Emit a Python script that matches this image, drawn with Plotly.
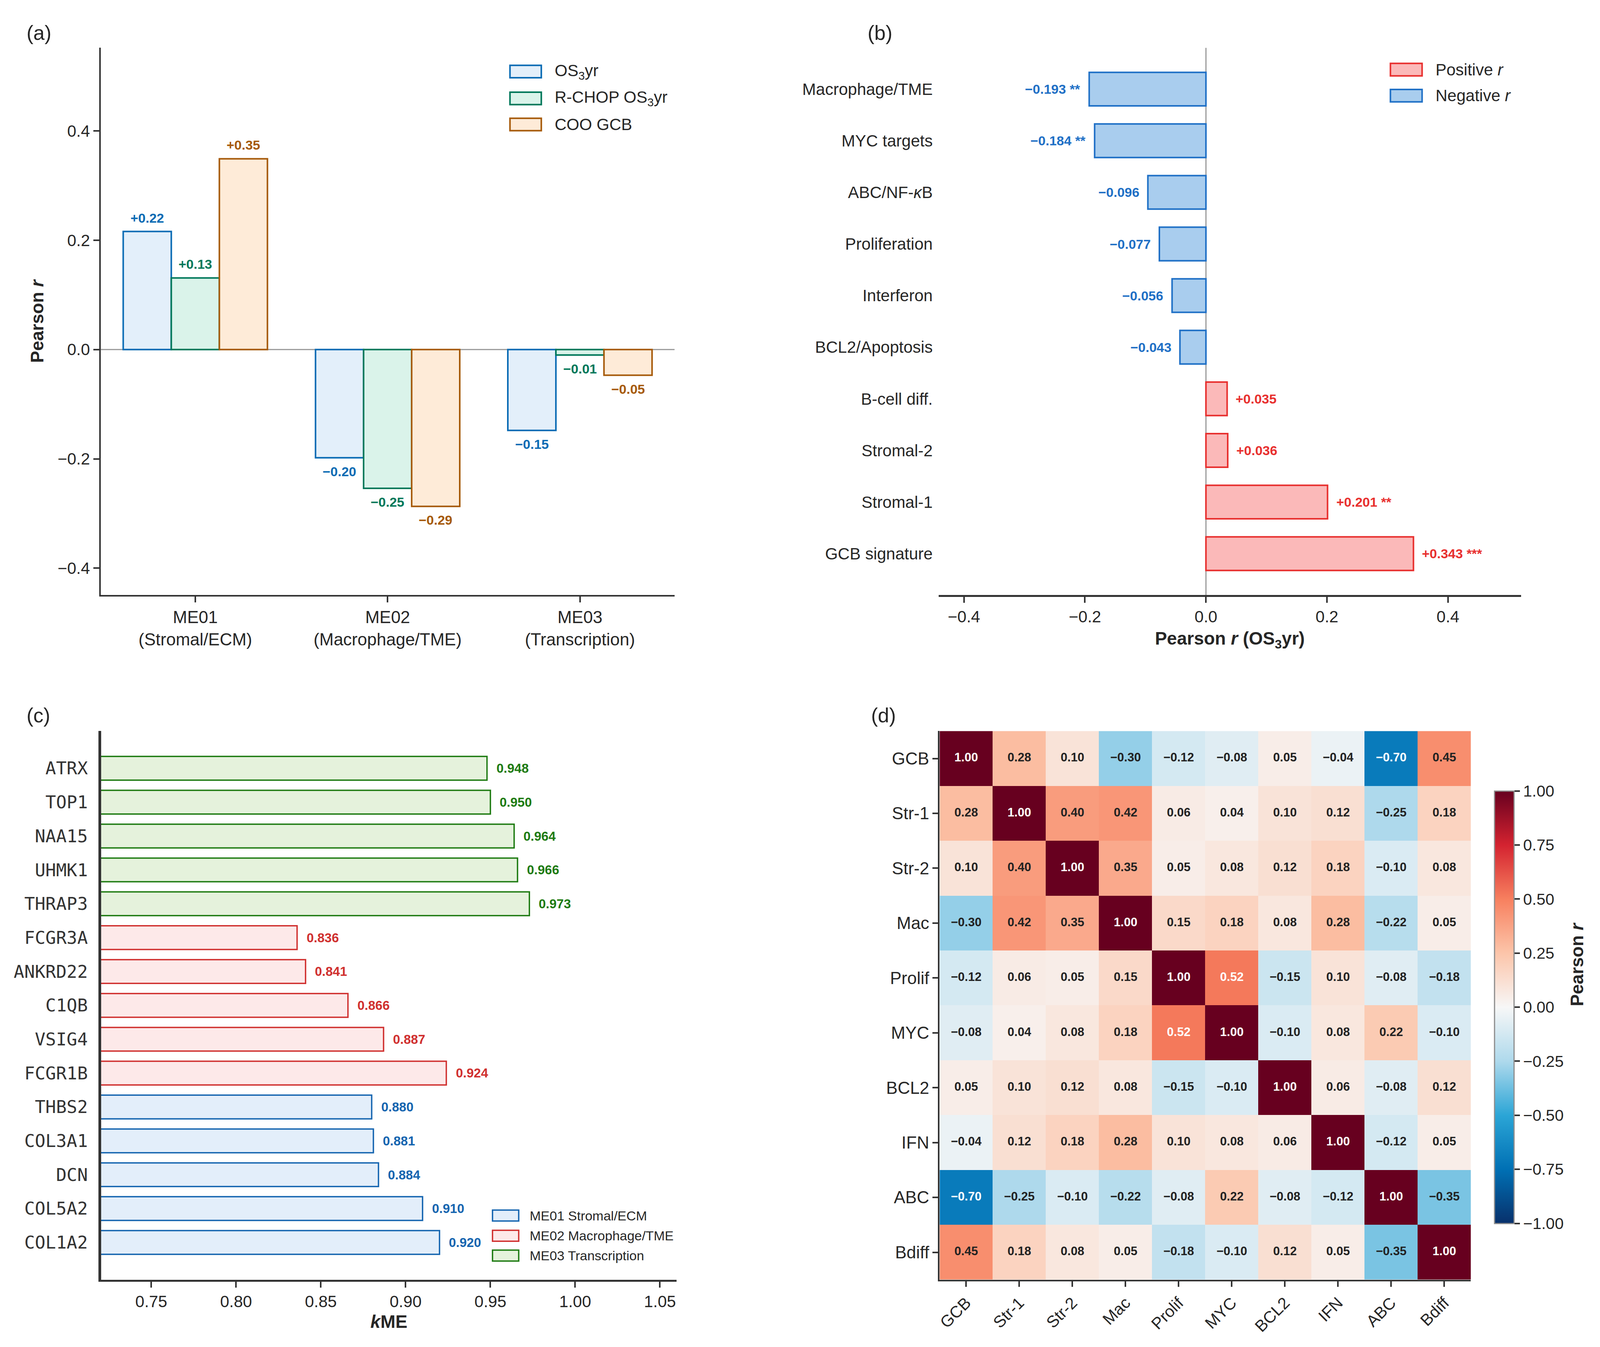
import plotly.graph_objects as go
from plotly.subplots import make_subplots

W, H = 4377, 3448   # reference size, used only to turn pixel positions into fractions
SANS = "Liberation Sans, Arial, sans-serif"
MONO = "DejaVu Sans Mono, monospace"
INK = "#262626"
AXIS = "#333333"
MINUS = "\u2212"

# (a) module eigengenes vs outcome
modules = ["ME01<br>(Stromal/ECM)", "ME02<br>(Macrophage/TME)", "ME03<br>(Transcription)"]
module_pos = [0, 1, 2]
r_os3yr = [0.216, -0.198, -0.148]
r_rchop = [0.131, -0.254, -0.010]
r_coo = [0.349, -0.287, -0.047]

# (b) signature scores vs OS3yr
signatures = ["Macrophage/TME", "MYC targets", "ABC/NF-kB", "Proliferation", "Interferon",
              "BCL2/Apoptosis", "B-cell diff.", "Stromal-2", "Stromal-1", "GCB signature"]
signature_text = ["Macrophage/TME", "MYC targets", "ABC/NF-<i>κ</i>B", "Proliferation", "Interferon",
                  "BCL2/Apoptosis", "B-cell diff.", "Stromal-2", "Stromal-1", "GCB signature"]
sig_r = [-0.193, -0.184, -0.096, -0.077, -0.056, -0.043, 0.035, 0.036, 0.201, 0.343]
sig_stars = ["**", "**", "", "", "", "", "", "", "**", "***"]

# (c) hub genes
hub_genes = ["ATRX", "TOP1", "NAA15", "UHMK1", "THRAP3", "FCGR3A", "ANKRD22", "C1QB",
             "VSIG4", "FCGR1B", "THBS2", "COL3A1", "DCN", "COL5A2", "COL1A2"]
hub_kme = [0.948, 0.950, 0.964, 0.966, 0.973, 0.836, 0.841, 0.866,
           0.887, 0.924, 0.880, 0.881, 0.884, 0.910, 0.920]
hub_module = ["ME03", "ME03", "ME03", "ME03", "ME03", "ME02", "ME02", "ME02",
              "ME02", "ME02", "ME01", "ME01", "ME01", "ME01", "ME01"]

# (d) signature correlation matrix
corr_labels = ["GCB", "Str-1", "Str-2", "Mac", "Prolif", "MYC", "BCL2", "IFN", "ABC", "Bdiff"]
corr = [
    [1.00, 0.28, 0.10, -0.30, -0.12, -0.08, 0.05, -0.04, -0.70, 0.45],
    [0.28, 1.00, 0.40, 0.42, 0.06, 0.04, 0.10, 0.12, -0.25, 0.18],
    [0.10, 0.40, 1.00, 0.35, 0.05, 0.08, 0.12, 0.18, -0.10, 0.08],
    [-0.30, 0.42, 0.35, 1.00, 0.15, 0.18, 0.08, 0.28, -0.22, 0.05],
    [-0.12, 0.06, 0.05, 0.15, 1.00, 0.52, -0.15, 0.10, -0.08, -0.18],
    [-0.08, 0.04, 0.08, 0.18, 0.52, 1.00, -0.10, 0.08, 0.22, -0.10],
    [0.05, 0.10, 0.12, 0.08, -0.15, -0.10, 1.00, 0.06, -0.08, 0.12],
    [-0.04, 0.12, 0.18, 0.28, 0.10, 0.08, 0.06, 1.00, -0.12, 0.05],
    [-0.70, -0.25, -0.10, -0.22, -0.08, 0.22, -0.08, -0.12, 1.00, -0.35],
    [0.45, 0.18, 0.08, 0.05, -0.18, -0.10, 0.12, 0.05, -0.35, 1.00],
]
cbar_ticks = [1.0, 0.75, 0.5, 0.25, 0.0, -0.25, -0.5, -0.75, -1.0]


def fmt(v, spec):
    return format(v, spec).replace("-", MINUS)


def px_x(p):
    return p / W


def px_y(p):
    return 1 - p / H


fig = make_subplots(rows=2, cols=2)

# ---------- (a)
series_a = [
    ("OS<sub>3</sub>yr", r_os3yr, "#0a6bb4", "#e3effa", -0.25),
    ("R-CHOP OS<sub>3</sub>yr", r_rchop, "#00785a", "#daf3ea", 0.0),
    ("COO GCB", r_coo, "#a65a0a", "#feebd8", 0.25),
]
for name, vals, edge, fill, off in series_a:
    xs = [p + off for p in module_pos]
    fig.add_trace(go.Bar(x=xs, y=vals, width=0.25, name=name, showlegend=False,
                         marker=dict(color=fill, line=dict(color=edge, width=4))),
                  row=1, col=1)
    for x, v in zip(xs, vals):
        fig.add_annotation(x=x, y=v, xref="x", yref="y", text="<b>%s</b>" % fmt(v, "+.2f"),
                           showarrow=False, yanchor="bottom" if v >= 0 else "top",
                           yshift=14 if v >= 0 else -14,
                           font=dict(size=34, color=edge, family=SANS))

fig.add_shape(type="line", xref="x domain", yref="y", x0=0, x1=1, y0=0, y1=0,
              line=dict(color="#999999", width=3), layer="below")

# ---------- (b)
for sign, fill, edge in [(1, "#fbb9b9", "#e8302f"), (-1, "#a9cdee", "#1f70c6")]:
    idx = [i for i, v in enumerate(sig_r) if (v > 0) == (sign > 0)]
    fig.add_trace(go.Bar(y=[signatures[i] for i in idx], x=[sig_r[i] for i in idx],
                         orientation="h", width=0.65, showlegend=False,
                         marker=dict(color=fill, line=dict(color=edge, width=4))),
                  row=1, col=2)
    for i in idx:
        v = sig_r[i]
        label = fmt(v, "+.3f") + (" " + sig_stars[i] if sig_stars[i] else "")
        fig.add_annotation(x=v, y=signatures[i], xref="x2", yref="y2", text="<b>%s</b>" % label,
                           showarrow=False, xanchor="left" if v > 0 else "right",
                           xshift=20 if v > 0 else -20,
                           font=dict(size=34, color=edge, family=SANS))

fig.add_shape(type="line", xref="x2", yref="y2 domain", x0=0, x1=0, y0=0, y1=1,
              line=dict(color="#999999", width=3), layer="below")

# ---------- (c)
module_style = {
    "ME01": ("ME01 Stromal/ECM", "#1565b0", "#e3eefa"),
    "ME02": ("ME02 Macrophage/TME", "#d0302f", "#fde9e9"),
    "ME03": ("ME03 Transcription", "#1e7b12", "#e5f2dc"),
}
for mod in ["ME01", "ME02", "ME03"]:
    label, edge, fill = module_style[mod]
    genes = [g for g, m in zip(hub_genes, hub_module) if m == mod]
    vals = [k for k, m in zip(hub_kme, hub_module) if m == mod]
    fig.add_trace(go.Bar(y=genes, x=vals, orientation="h", width=0.7, showlegend=False,
                         marker=dict(color=fill, line=dict(color=edge, width=3.5))),
                  row=2, col=1)
    for g, v in zip(genes, vals):
        fig.add_annotation(x=v, y=g, xref="x3", yref="y3", text="<b>%s</b>" % fmt(v, ".3f"),
                           showarrow=False, xanchor="left", xshift=22,
                           font=dict(size=33, color=edge, family=SANS))

# ---------- (d)
colorscale = [
    [0.0, "#08306b"], [0.125, "#0070b4"], [0.25, "#2ba5d6"], [0.375, "#aed9ec"],
    [0.5, "#f7f7f7"], [0.625, "#fcc5aa"], [0.75, "#f7805f"], [0.875, "#d42330"],
    [1.0, "#67001f"],
]
fig.add_trace(go.Heatmap(
    z=corr, x=corr_labels, y=corr_labels, zmin=-1, zmax=1, colorscale=colorscale,
    showscale=True, hoverinfo="skip",
    colorbar=dict(x=4096 / W, xanchor="left", xpad=0, ypad=0, y=px_y(2582), yanchor="middle",
                  len=1112 / H, lenmode="fraction", thickness=50,
                  outlinecolor="#8c8c8c", outlinewidth=3,
                  tickvals=cbar_ticks, ticktext=[fmt(t, ".2f") for t in cbar_ticks],
                  ticks="outside", ticklen=14, tickwidth=4, tickcolor=AXIS,
                  tickfont=dict(size=41, color=INK, family=SANS)),
), row=2, col=2)

cell_x, cell_y, cell_t, cell_c = [], [], [], []
for r, row_name in enumerate(corr_labels):
    for c, col_name in enumerate(corr_labels):
        v = corr[r][c]
        cell_x.append(col_name)
        cell_y.append(row_name)
        cell_t.append("<b>%s</b>" % fmt(v, ".2f"))
        cell_c.append("white" if abs(v) >= 0.5 else "#222222")
fig.add_trace(go.Scatter(x=cell_x, y=cell_y, mode="text", text=cell_t, showlegend=False,
                         textfont=dict(size=31, color=cell_c, family=SANS), hoverinfo="skip"),
              row=2, col=2)

# ---------- axes
tickfont = dict(size=42, color=INK, family=SANS)
common = dict(showgrid=False, zeroline=False, linecolor=AXIS, tickcolor=AXIS, tickfont=tickfont)
title_font = dict(size=46, color=INK, family=SANS)

fig.update_layout(
    autosize=True, margin=dict(l=0, r=0, t=0, b=0, autoexpand=False),
    template="plotly_white", paper_bgcolor="white", plot_bgcolor="white",
    font=dict(family=SANS, color=INK), barmode="overlay", showlegend=False,
    xaxis=dict(common, domain=[px_x(268), px_x(1844)], range=[-0.492, 2.492],
               tickvals=module_pos, ticktext=modules, showline=True, linewidth=4,
               ticks="outside", ticklen=15, tickwidth=4, tickfont=dict(size=44, color=INK, family=SANS)),
    yaxis=dict(common, domain=[px_y(1522), px_y(115)], range=[-0.449, 0.552],
               tickvals=[0.4, 0.2, 0.0, -0.2, -0.4],
               ticktext=["0.4", "0.2", "0.0", MINUS + "0.2", MINUS + "0.4"],
               showline=True, linewidth=4, ticks="outside", ticklen=15, tickwidth=4,
               title=dict(text="<b>Pearson <i>r</i></b>", font=title_font, standoff=22)),
    xaxis2=dict(common, domain=[px_x(2569), px_x(4169)], range=[-0.442, 0.521],
                tickvals=[-0.4, -0.2, 0.0, 0.2, 0.4],
                ticktext=[MINUS + "0.4", MINUS + "0.2", "0.0", "0.2", "0.4"],
                showline=True, linewidth=5, ticks="outside", ticklen=15, tickwidth=4,
                title=dict(text="<b>Pearson <i>r</i> (OS<sub>3</sub>yr)</b>", font=title_font, standoff=18)),
    yaxis2=dict(common, domain=[px_y(1522), px_y(115)], type="category",
                categoryorder="array", categoryarray=signatures, range=[9.8, -0.8],
                tickvals=signatures, ticktext=signature_text, showline=False, ticks="",
                ticklabelstandoff=14),
    xaxis3=dict(common, domain=[px_x(269), px_x(1850)], range=[0.7204, 1.0599],
                tickvals=[0.75, 0.80, 0.85, 0.90, 0.95, 1.00, 1.05],
                ticktext=["0.75", "0.80", "0.85", "0.90", "0.95", "1.00", "1.05"],
                showline=True, linewidth=5, ticks="outside", ticklen=15, tickwidth=4,
                title=dict(text="<b><i>k</i>ME</b>", font=title_font, standoff=14)),
    yaxis3=dict(common, domain=[px_y(3283), px_y(1872)], type="category",
                categoryorder="array", categoryarray=hub_genes, range=[15.1, -1.1],
                showline=True, linewidth=7, ticks="", ticklabelstandoff=18,
                tickfont=dict(size=45, color="#333333", family=MONO)),
    xaxis4=dict(common, domain=[px_x(2572), px_x(4031)], showline=True, linewidth=4,
                ticks="outside", ticklen=14, tickwidth=4, tickangle=-45,
                tickfont=dict(size=42, color=INK, family=SANS)),
    yaxis4=dict(common, domain=[px_y(3283), px_y(1872)], range=[9.5, -0.5],
                showline=True, linewidth=4, ticks="outside", ticklen=14, tickwidth=4,
                tickfont=dict(size=44, color=INK, family=SANS)),
)

# panel letters
for letter, x, y in [("(a)", 62, 76), ("(b)", 2372, 76), ("(c)", 62, 1832), ("(d)", 2382, 1832)]:
    fig.add_annotation(x=px_x(x), y=px_y(y), xref="paper", yref="paper", text=letter,
                       showarrow=False, xanchor="left", yanchor="middle",
                       font=dict(size=52, color=INK, family=SANS))

# colorbar title
fig.add_annotation(x=px_x(4352), y=px_y(2582), xref="paper", yref="paper",
                   text="<b>Pearson <i>r</i></b>", textangle=-90, showarrow=False,
                   font=dict(size=46, color=INK, family=SANS))


# hand-drawn keys (wide patches like the original)
def add_key(entries, x0, x1, rows, text_x, box_h, size, lw):
    for (label, edge, fill), yc in zip(entries, rows):
        fig.add_shape(type="rect", xref="paper", yref="paper",
                      x0=px_x(x0), x1=px_x(x1), y0=px_y(yc + box_h / 2), y1=px_y(yc - box_h / 2),
                      fillcolor=fill, line=dict(color=edge, width=lw))
        fig.add_annotation(x=px_x(text_x), y=px_y(yc), xref="paper", yref="paper", text=label,
                           showarrow=False, xanchor="left", yanchor="middle",
                           font=dict(size=size, color=INK, family=SANS))


add_key([(n, e, f) for n, _, e, f, _ in series_a], 1392, 1478, [176, 245, 312], 1513, 32, 42, 4)
add_key([("Positive <i>r</i>", "#e8302f", "#fbb9b9"), ("Negative <i>r</i>", "#1f70c6", "#a9cdee")],
        3810, 3897, [171, 238], 3932, 32, 42, 4)
add_key([module_style[m] for m in ["ME01", "ME02", "ME03"]], 1344, 1416, [3118, 3170, 3221],
        1444, 28, 34, 3.5)

fig.write_html("out.html")
